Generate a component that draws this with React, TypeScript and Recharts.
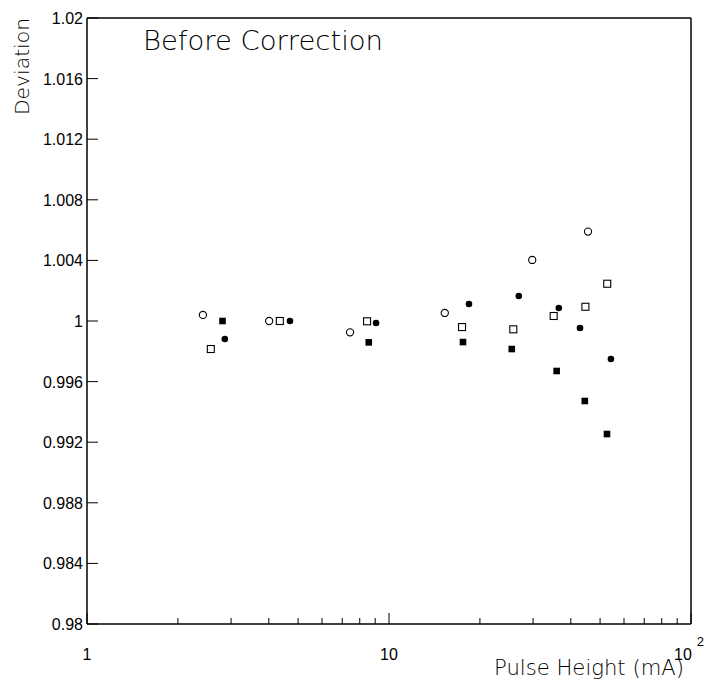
import React from 'react';
import { ScatterChart, Scatter, XAxis, YAxis, ReferenceLine, Customized } from 'recharts';

// open circles
const openCircleX = [2.42, 4.01, 7.43, 15.3, 29.8, 45.6];
const openCircleY = [1.0004, 1.0, 0.99925, 1.00053, 1.00403, 1.0059];

// filled circles
const filledCircleX = [2.86, 4.7, 9.06, 18.4, 26.9, 36.5, 42.9, 54.3];
const filledCircleY = [0.99881, 1.0, 0.99987, 1.00112, 1.00165, 1.00086, 0.99954, 0.99749];

// open squares
const openSquareX = [2.57, 4.35, 8.46, 17.45, 25.8, 35.1, 44.7, 52.8];
const openSquareY = [0.99815, 1.0, 0.99998, 0.9996, 0.99945, 1.00033, 1.00094, 1.00246];

// filled squares
const filledSquareX = [2.81, 8.57, 17.58, 25.5, 35.9, 44.5, 52.7];
const filledSquareY = [1.0, 0.99859, 0.99861, 0.99815, 0.9967, 0.99472, 0.99254];

const xTicks = [1, 2, 3, 4, 5, 6, 7, 8, 9, 10, 20, 30, 40, 50, 60, 70, 80, 90, 100];
const yTicks = [0.98, 0.984, 0.988, 0.992, 0.996, 1, 1.004, 1.008, 1.012, 1.016, 1.02];
const yTickLabels = ['0.98', '0.984', '0.988', '0.992', '0.996', '1', '1.004', '1.008', '1.012', '1.016', '1.02'];

const toPoints = (xs: number[], ys: number[]) => xs.map((x, i) => ({ x, y: ys[i] }));

const tickFont = '"Liberation Sans", Arial, sans-serif';
const thinFont = '"DejaVu Sans", sans-serif';

const XTick = (props: any) => {
  const { x, y, payload } = props;
  const v = payload.value;
  const major = v === 1 || v === 10 || v === 100;
  const len = major ? 11 : 6;
  return (
    <g>
      <line x1={x} x2={x} y1={y} y2={y - len} stroke="#000" strokeWidth={1} />
      {v === 1 && (
        <text x={x} y={y + 36} textAnchor="middle" fontFamily={tickFont} fontSize={16} fill="#000">1</text>
      )}
      {v === 10 && (
        <text x={x} y={y + 36} textAnchor="middle" fontFamily={tickFont} fontSize={16} fill="#000">10</text>
      )}
      {v === 100 && (
        <text x={x - 2} y={y + 36} textAnchor="middle" fontFamily={tickFont} fontSize={16} fill="#000">
          10
          <tspan dx={5} dy={-14} fontSize={13}>2</tspan>
        </text>
      )}
    </g>
  );
};

const YTick = (props: any) => {
  const { x, y, payload, index } = props;
  return (
    <g>
      <line x1={x} x2={x + 11} y1={y} y2={y} stroke="#000" strokeWidth={1} />
      <text x={x - 4} y={y + 6} textAnchor="end" fontFamily={tickFont} fontSize={16} fill="#000">
        {yTickLabels[index] ?? String(payload.value)}
      </text>
    </g>
  );
};

const OpenCircle = (p: any) => (
  <circle cx={p.cx} cy={p.cy} r={3.6} fill="#fff" stroke="#000" strokeWidth={1.1} />
);
const FilledCircle = (p: any) => <circle cx={p.cx} cy={p.cy} r={3.3} fill="#000" />;
const OpenSquare = (p: any) => (
  <rect x={p.cx - 3.5} y={p.cy - 3.5} width={7} height={7} fill="#fff" stroke="#000" strokeWidth={1.1} />
);
const FilledSquare = (p: any) => <rect x={p.cx - 3.3} y={p.cy - 3.3} width={6.6} height={6.6} fill="#000" />;

const Labels = () => (
  <g>
    <text
      x={143}
      y={50}
      fontFamily={thinFont}
      fontWeight={200}
      fontSize={27}
      textLength={240}
      lengthAdjust="spacingAndGlyphs"
      fill="#000"
    >
      Before Correction
    </text>
    <text
      transform="translate(29, 115) rotate(-90)"
      fontFamily={thinFont}
      fontWeight={200}
      fontSize={19}
      textLength={97}
      lengthAdjust="spacingAndGlyphs"
      fill="#000"
    >
      Deviation
    </text>
    <text
      x={494}
      y={675}
      fontFamily={thinFont}
      fontWeight={200}
      fontSize={22}
      textLength={190}
      lengthAdjust="spacingAndGlyphs"
      fill="#000"
    >
      Pulse Height (mA)
    </text>
  </g>
);

export default function App() {
  return (
    <div style={{ position: 'absolute', left: 0, top: 0, background: '#fff' }}>
      <ScatterChart width={715} height={687} margin={{ top: 18, right: 24, bottom: 0, left: 0 }}>
        <XAxis
          type="number"
          dataKey="x"
          scale="log"
          domain={[1, 100]}
          ticks={xTicks}
          interval={0}
          allowDataOverflow
          height={63}
          tickSize={0}
          tickMargin={0}
          tickLine={false}
          tick={<XTick />}
          axisLine={{ stroke: '#000', strokeWidth: 1.5 }}
        />
        <YAxis
          type="number"
          dataKey="y"
          domain={[0.98, 1.02]}
          ticks={yTicks}
          interval={0}
          allowDataOverflow
          width={87}
          tickSize={0}
          tickMargin={0}
          tickLine={false}
          tick={<YTick />}
          axisLine={{ stroke: '#000', strokeWidth: 1.5 }}
        />
        <ReferenceLine y={1.02} stroke="#000" strokeWidth={1.5} ifOverflow="visible" />
        <ReferenceLine x={100} stroke="#000" strokeWidth={1.5} ifOverflow="visible" />
        <Scatter data={toPoints(openCircleX, openCircleY)} shape={<OpenCircle />} isAnimationActive={false} />
        <Scatter data={toPoints(filledCircleX, filledCircleY)} shape={<FilledCircle />} isAnimationActive={false} />
        <Scatter data={toPoints(openSquareX, openSquareY)} shape={<OpenSquare />} isAnimationActive={false} />
        <Scatter data={toPoints(filledSquareX, filledSquareY)} shape={<FilledSquare />} isAnimationActive={false} />
        <Customized component={Labels} />
      </ScatterChart>
    </div>
  );
}
